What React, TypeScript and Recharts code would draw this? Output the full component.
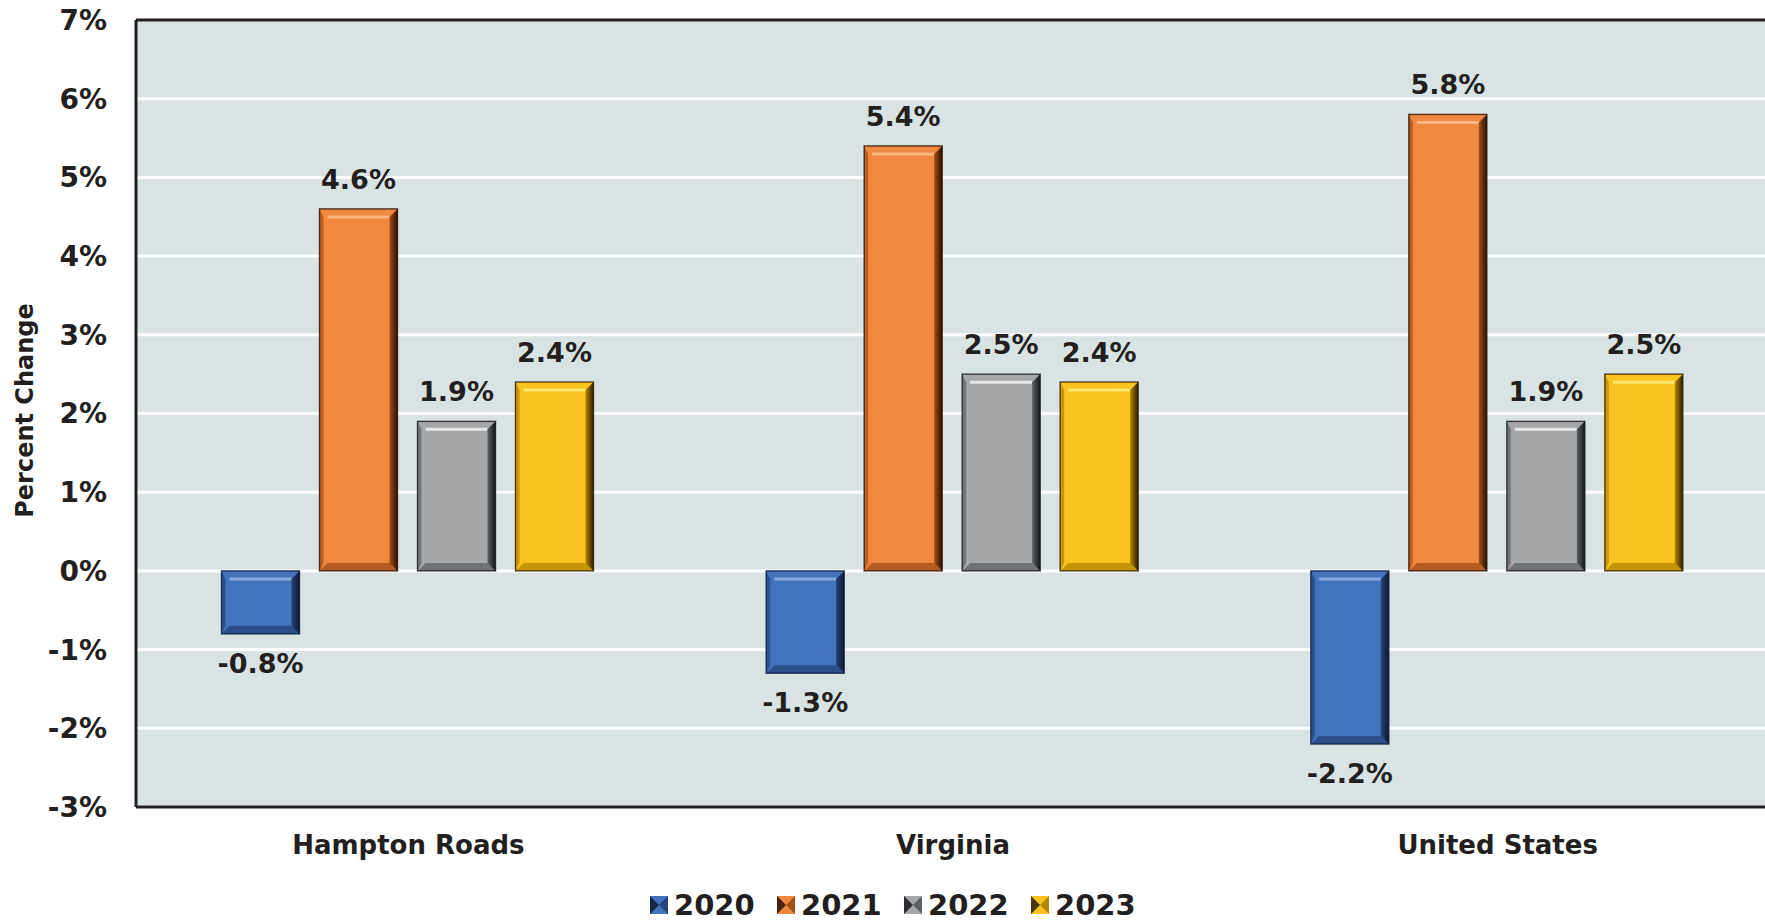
import {
  Bar,
  BarChart,
  CartesianGrid,
  LabelList,
  Legend,
  ReferenceLine,
  XAxis,
  YAxis,
} from "recharts";

const regions = ["Hampton Roads", "Virginia", "United States"];
const years = ["2020", "2021", "2022", "2023"];
const change2020 = [-0.8, -1.3, -2.2];
const change2021 = [4.6, 5.4, 5.8];
const change2022 = [1.9, 2.5, 1.9];
const change2023 = [2.4, 2.4, 2.5];
const yTicks = [-3, -2, -1, 0, 1, 2, 3, 4, 5, 6, 7];

const seriesValues = [change2020, change2021, change2022, change2023];

const data = regions.map((region, i) => {
  const row: Record<string, string | number> = { region };
  years.forEach((yr, s) => {
    row[yr] = seriesValues[s][i];
  });
  return row;
});

type Palette = { base: string; light: string; dark: string; edge: string };

const palettes: Record<string, Palette> = {
  "2020": { base: "#4473bd", light: "#86acdf", dark: "#24437a", edge: "#0c1a33" },
  "2021": { base: "#f1883f", light: "#f9b781", dark: "#a24e18", edge: "#2a1204" },
  "2022": { base: "#a5a7a9", light: "#e6e8ea", dark: "#5e6164", edge: "#15181b" },
  "2023": { base: "#fbc322", light: "#fbe870", dark: "#b58500", edge: "#2b1f00" },
};

const INK = "#231f20";
const FONT = "'DejaVu Sans', Lato, sans-serif";

function BevelBar(props: any) {
  const { x, y, width, height, dataKey } = props;
  if (!width || !height) return null;
  const p = palettes[dataKey];
  const top = height < 0 ? y + height : y;
  const h = Math.abs(height);
  const w = width;
  const b = Math.min(8, h / 2.5, w / 4);
  const bottom = top + h;
  const right = x + w;
  const gid = `edge-${dataKey}`;
  return (
    <g>
      <defs>
        <linearGradient id={gid} x1="0" y1="0" x2="1" y2="0">
          <stop offset="0%" stopColor={p.dark} />
          <stop offset="100%" stopColor={p.edge} />
        </linearGradient>
      </defs>
      <rect x={x} y={top} width={w} height={h} fill={p.base} />
      {/* top bevel with a light ridge */}
      <polygon
        points={`${x},${top} ${right},${top} ${right - b},${top + b} ${x + b},${top + b}`}
        fill={p.base}
      />
      <line
        x1={x + b}
        x2={right - b}
        y1={top + b}
        y2={top + b}
        stroke={p.light}
        strokeWidth={3}
      />
      {/* bottom bevel */}
      <polygon
        points={`${x},${bottom} ${right},${bottom} ${right - b},${bottom - b} ${x + b},${bottom - b}`}
        fill={p.dark}
        opacity={0.75}
      />
      {/* left bevel */}
      <polygon
        points={`${x},${top} ${x + b * 0.5},${top + b} ${x + b * 0.5},${bottom - b} ${x},${bottom}`}
        fill={p.dark}
        opacity={0.7}
      />
      {/* right bevel, shaded to near black */}
      <polygon
        points={`${right},${top} ${right - b},${top + b} ${right - b},${bottom - b} ${right},${bottom}`}
        fill={`url(#${gid})`}
      />
      <rect
        x={x}
        y={top}
        width={w}
        height={h}
        fill="none"
        stroke={p.edge}
        strokeOpacity={0.8}
        strokeWidth={1.4}
      />
    </g>
  );
}

function AxisTitle(props: any) {
  const { viewBox } = props;
  const cy = viewBox.y + viewBox.height / 2 - 3;
  const cx = 25;
  return (
    <text
      x={cx}
      y={cy}
      transform={`rotate(-90, ${cx}, ${cy})`}
      textAnchor="middle"
      dominantBaseline="central"
      fill={INK}
      fontFamily={FONT}
      fontWeight={700}
      fontSize={24}
    >
      Percent Change
    </text>
  );
}

function YearLegend() {
  return (
    <div style={{ display: "flex", alignItems: "center" }}>
      {years.map((yr) => {
        const p = palettes[yr];
        return (
          <div
            key={yr}
            style={{ display: "flex", alignItems: "center", width: 127 }}
          >
            <svg width={18} height={18} style={{ marginRight: 6 }}>
              <rect width={18} height={18} fill={p.base} />
              <polygon points="0,0 9,9 0,18" fill={p.edge} opacity={0.85} />
              <polygon points="18,0 9,9 18,18" fill={p.dark} />
            </svg>
            <span
              style={{
                fontFamily: FONT,
                fontWeight: 700,
                fontSize: 29,
                color: INK,
                lineHeight: "32px",
              }}
            >
              {yr}
            </span>
          </div>
        );
      })}
    </div>
  );
}

const pct = (v: number) => `${v}%`;

export default function App() {
  return (
    <div
      style={{
        position: "absolute",
        left: 0,
        top: 0,
        width: 1765,
        height: 924,
        overflow: "hidden",
        background: "#ffffff",
      }}
    >
      <BarChart
        width={1780}
        height={924}
        data={data}
        margin={{ top: 20, right: 10, left: 0, bottom: 57 }}
        barCategoryGap="15.7%"
        barGap={20}
      >
        <CartesianGrid
          vertical={false}
          stroke="#ffffff"
          strokeWidth={3}
          fill="#d9e3e4"
        />
        <XAxis
          dataKey="region"
          height={60}
          tickLine={false}
          tickSize={0}
          tickMargin={29}
          axisLine={{ stroke: INK, strokeWidth: 3 }}
          tick={{ fill: INK, fontFamily: FONT, fontWeight: 700, fontSize: 26 }}
        />
        <YAxis
          width={136}
          domain={[-3, 7]}
          ticks={yTicks}
          interval={0}
          tickFormatter={pct}
          tickLine={false}
          tickSize={0}
          tickMargin={29}
          axisLine={{ stroke: INK, strokeWidth: 3 }}
          tick={{ fill: INK, fontFamily: FONT, fontWeight: 700, fontSize: 28 }}
          label={<AxisTitle />}
        />
        <ReferenceLine y={7} stroke={INK} strokeWidth={3} />
        <Legend
          layout="horizontal"
          verticalAlign="middle"
          align="center"
          content={<YearLegend />}
          wrapperStyle={{ left: 650, top: 889, width: 520, height: 32 }}
        />
        {years.map((yr) => (
          <Bar
            key={yr}
            dataKey={yr}
            fill={palettes[yr].base}
            shape={<BevelBar />}
            isAnimationActive={false}
          >
            <LabelList
              dataKey={yr}
              position="top"
              offset={20}
              formatter={(v: any) => pct(v)}
              fill={INK}
              fontFamily={FONT}
              fontWeight={700}
              fontSize={27}
            />
          </Bar>
        ))}
      </BarChart>
    </div>
  );
}
